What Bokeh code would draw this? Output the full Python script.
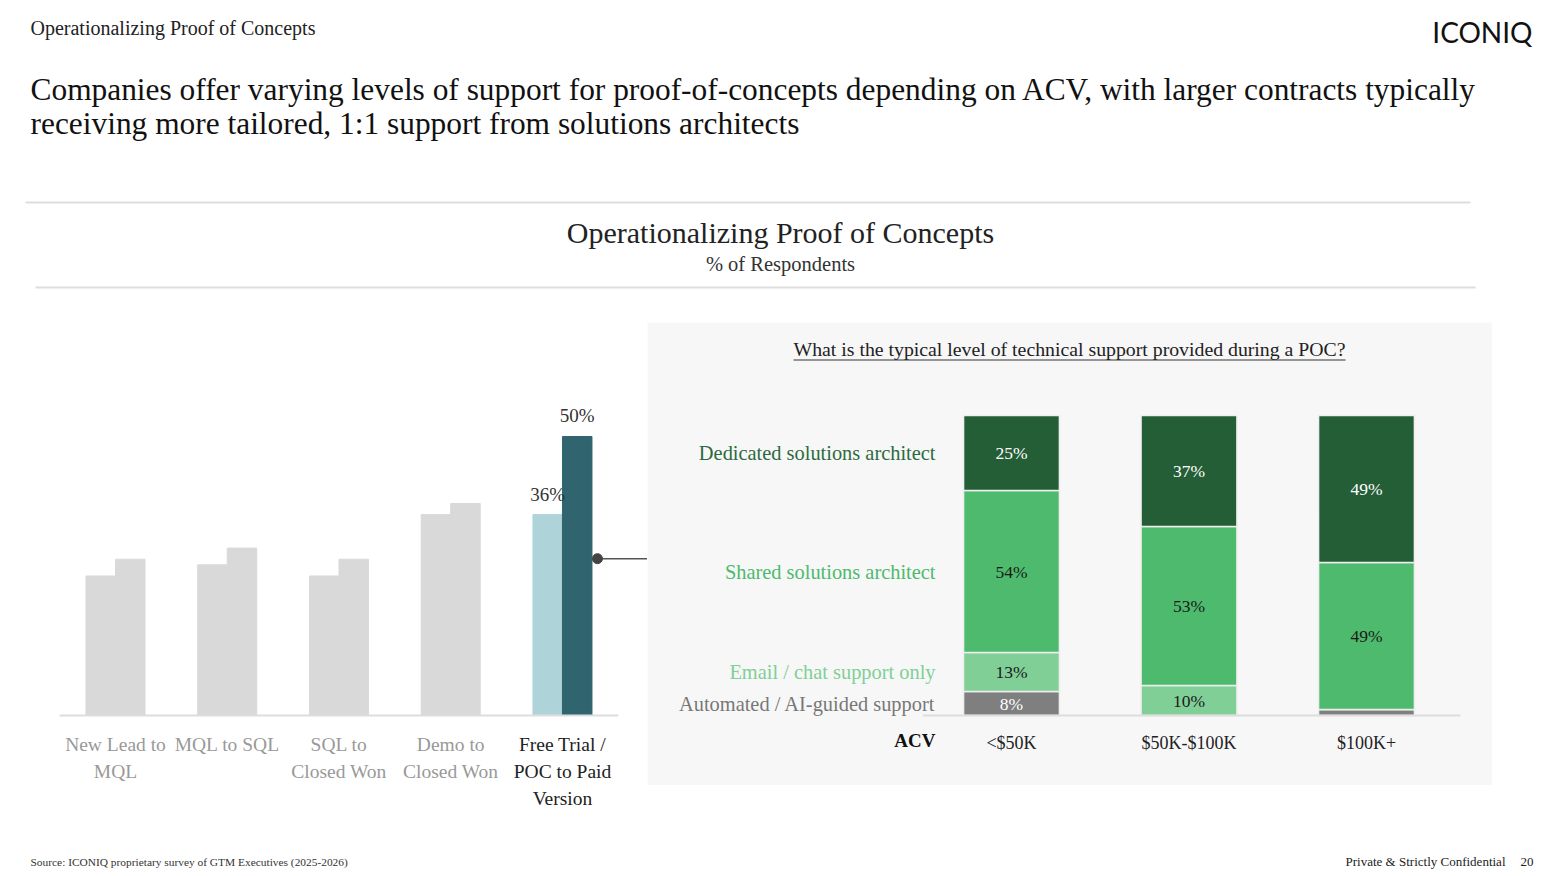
from bokeh.plotting import figure
from bokeh.models import ColumnDataSource, Range1d, Spacer
from bokeh.layouts import column, row
from bokeh.embed import file_html
from bokeh.resources import INLINE
from bokeh.core.properties import value

SERIF = "Liberation Serif"

# ---------------- data ----------------
stages = ["New Lead to\nMQL", "MQL to SQL", "SQL to\nClosed Won", "Demo to\nClosed Won",
          "Free Trial /\nPOC to Paid\nVersion"]
series_a = [25, 27, 25, 36, 36]
series_b = [28, 30, 28, 38, 50]
highlight = 4

acv = ["<$50K", "$50K-$100K", "$100K+"]
levels = ["Automated / AI-guided support", "Email / chat support only",
          "Shared solutions architect", "Dedicated solutions architect"]
automated = [8, 0, 2]
email = [13, 10, 0]
shared = [54, 53, 49]
dedicated = [25, 37, 49]

# ---------------- helpers ----------------
def canvas(w, h, y_top, y_bot, bg="white"):
    p = figure(width=w, height=h, x_range=Range1d(0, w), y_range=Range1d(y_bot, y_top),
               output_backend="svg", toolbar_location=None, min_border=0,
               x_axis_location=None, y_axis_location=None)
    p.grid.visible = False
    p.outline_line_color = None
    p.background_fill_color = bg
    p.border_fill_color = bg
    return p

# ---------------- header ----------------
head = canvas(1558, 322, 0, 322)
head.text(x=[30], y=[27], text=["Operationalizing Proof of Concepts"], text_font=value(SERIF),
          text_font_size="20px", text_baseline="middle", text_align="left", text_color="#222222")
head.text(x=[1532], y=[31], text=["ICONIQ"], text_font=value("Lato"),
          text_font_size="28px", text_baseline="middle", text_align="right", text_color="#111111")
head.text(x=[30, 30], y=[89, 123],
          text=["Companies offer varying levels of support for proof-of-concepts depending on ACV, with larger contracts typically",
                "receiving more tailored, 1:1 support from solutions architects"],
          text_font=value(SERIF), text_font_size="31.4px", text_baseline="middle",
          text_align="left", text_color="#111111")
head.segment(x0=[25, 35], y0=[202, 287], x1=[1470, 1475], y1=[202, 287],
             line_color="#dddddd", line_width=2)
head.text(x=[780], y=[232], text=["Operationalizing Proof of Concepts"], text_font=value(SERIF),
          text_font_size="30px", text_baseline="middle", text_align="center", text_color="#222222")
head.text(x=[780], y=[263], text=["% of Respondents"], text_font=value(SERIF),
          text_font_size="20.5px", text_baseline="middle", text_align="center", text_color="#333333")

# ---------------- left chart ----------------
left = figure(width=647, height=500, x_range=Range1d(-1.029, 4.761), y_range=Range1d(-19.18, 70.43),
              output_backend="svg", toolbar_location=None, min_border=0,
              x_axis_location=None, y_axis_location=None)
left.grid.visible = False
left.outline_line_color = None

idx = list(range(len(stages)))
ca = ["#aed4da" if i == highlight else "#d9d9d9" for i in idx]
cb = ["#30646e" if i == highlight else "#d9d9d9" for i in idx]
lc = ["#222222" if i == highlight else "#999999" for i in idx]
bw = 0.264
lsrc = ColumnDataSource(dict(xa=[i - bw / 2 for i in idx], xb=[i + bw / 2 for i in idx],
                             x=idx, a=series_a, b=series_b, ca=ca, cb=cb, label=stages, lc=lc))
left.vbar(x="xa", top="a", bottom=0, width=bw, fill_color="ca", line_color="ca", source=lsrc)
left.vbar(x="xb", top="b", bottom=0, width=bw, fill_color="cb", line_color="cb", source=lsrc)
left.segment(x0=[-0.5], y0=[0], x1=[len(stages) - 0.5], y1=[0], line_color="#dddddd", line_width=2)
left.text(x="x", y=-3.3, text="label", text_color="lc", source=lsrc, text_font=value(SERIF),
          text_font_size="19.5px", text_align="center", text_baseline="top", text_line_height=1.28)
# value labels for highlighted pair
left.text(x=[highlight - bw / 2, highlight + bw / 2], y=[series_a[highlight], series_b[highlight]],
          text=[f"{series_a[highlight]}%", f"{series_b[highlight]}%"], text_font=value(SERIF),
          text_font_size="19px", text_align="center", text_baseline="bottom", y_offset=-10,
          text_color="#333333")
# connector
left.segment(x0=[highlight + 0.313], y0=[28.1], x1=[4.761], y1=[28.1], line_color="#555555", line_width=1.5)
left.scatter(x=[highlight + 0.313], y=[28.1], size=10, color="#444444")

# ---------------- right chart ----------------
right = figure(width=845, height=463, x_range=Range1d(-2.0507, 2.7099), y_range=Range1d(-23.33, 131.0),
               output_backend="svg", toolbar_location=None, min_border=0,
               x_axis_location=None, y_axis_location=None)
right.grid.visible = False
right.outline_line_color = None
right.background_fill_color = "#f7f7f7"
right.border_fill_color = "#f7f7f7"

colors = ["#7f7f7f", "#7fcf96", "#4dba6d", "#245e36"]
label_colors = ["#777777", "#7fcf96", "#4dba6d", "#2c6a3e"]
inner_colors = ["#ffffff", "#1a1a1a", "#1a1a1a", "#ffffff"]
keys = ["automated", "email", "shared", "dedicated"]
rx = list(range(len(acv)))
rsrc = ColumnDataSource(dict(x=rx, automated=automated, email=email, shared=shared, dedicated=dedicated))
right.vbar_stack(keys, x="x", width=0.54, color=colors, line_color="#eeeeee", line_width=1.5, source=rsrc)
right.segment(x0=[-0.5], y0=[0], x1=[len(acv) - 0.47], y1=[0], line_color="#dddddd", line_width=2)

# segment labels
sx, sy, st, sc = [], [], [], []
series = [automated, email, shared, dedicated]
for j in rx:
    base = 0
    for k, ser in enumerate(series):
        v = ser[j]
        if v >= 5:
            sx.append(j); sy.append(base + v / 2); st.append(f"{v}%"); sc.append(inner_colors[k])
        base += v
right.text(x=sx, y=sy, text=st, text_color=sc, text_font=value(SERIF), text_font_size="17.5px",
           text_align="center", text_baseline="middle")

# row labels, at midpoints of the first bar
ly, base = [], 0
for ser in series:
    ly.append(base + ser[0] / 2)
    base += ser[0]
right.text(x=[-0.428] * 4, y=ly, text=levels, text_color=label_colors, text_font=value(SERIF),
           text_font_size="20.4px", text_align="right", text_baseline="middle")

# category labels
right.text(x=rx, y=[-9] * len(acv), text=acv, text_color="#222222", text_font=value(SERIF),
           text_font_size="18px", text_align="center", text_baseline="middle")
right.text(x=[-0.428], y=[-8.3], text=["ACV"], text_color="#111111", text_font=value(SERIF),
           text_font_size="19px", text_font_style="bold", text_align="right", text_baseline="middle")

# title with underline
right.text(x=[0.327], y=[122.3], text=["What is the typical level of technical support provided during a POC?"],
           text_color="#222222", text_font=value(SERIF), text_font_size="19.8px",
           text_align="center", text_baseline="middle")
right.segment(x0=[-1.228], y0=[118.5], x1=[1.882], y1=[118.5], line_color="#333333", line_width=1)

# ---------------- footer ----------------
foot = canvas(1558, 54, 822, 876)
foot.text(x=[30], y=[861], text=["Source: ICONIQ proprietary survey of GTM Executives (2025-2026)"],
          text_font=value(SERIF), text_font_size="11.4px", text_baseline="middle", text_align="left",
          text_color="#333333")
foot.text(x=[1505], y=[861], text=["Private & Strictly Confidential"], text_font=value(SERIF),
          text_font_size="13px", text_baseline="middle", text_align="right", text_color="#222222")
foot.text(x=[1520], y=[861], text=["20"], text_font=value(SERIF),
          text_font_size="13px", text_baseline="middle", text_align="left", text_color="#222222")

page = column(head, row(left, right, Spacer(width=66, height=463)), foot)
open("out.html", "w").write(file_html(page, INLINE))
